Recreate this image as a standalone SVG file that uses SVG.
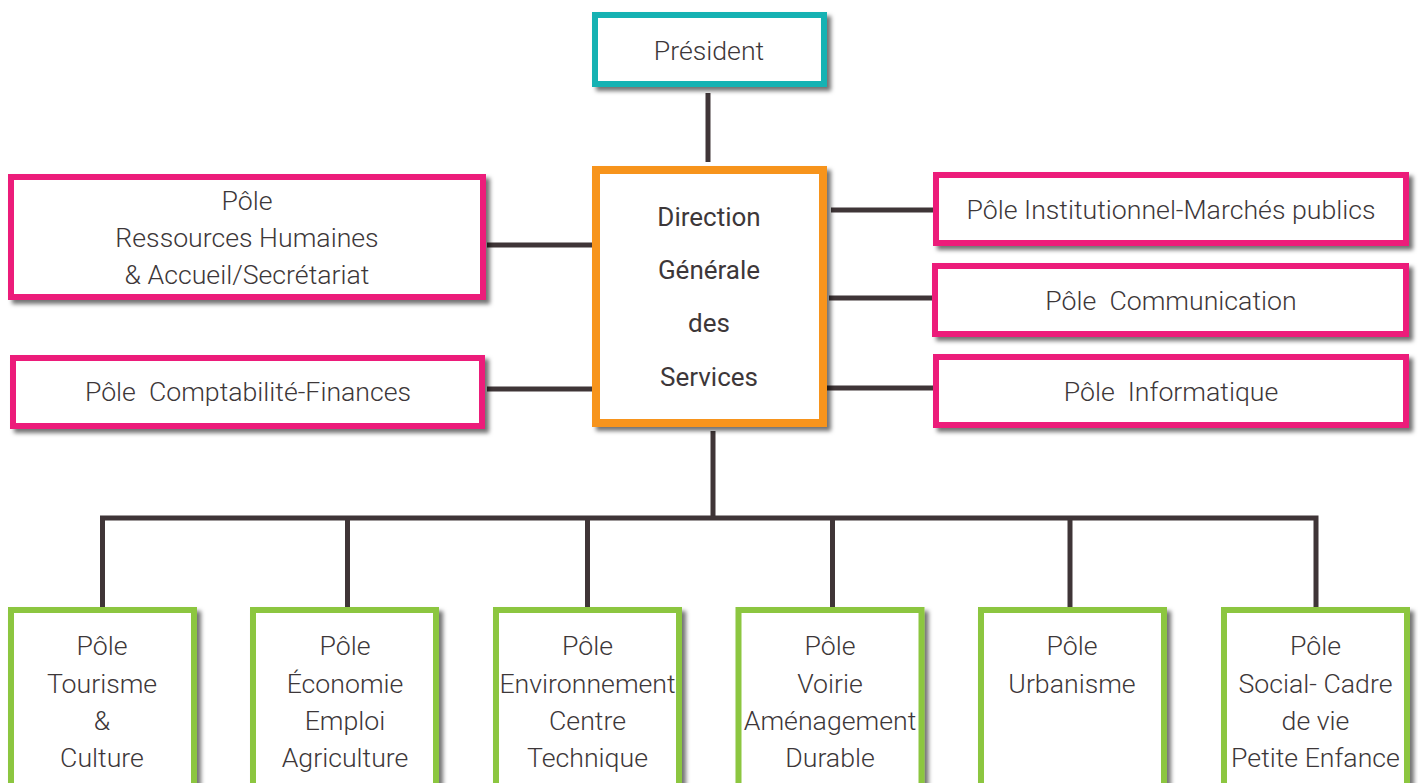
<svg xmlns="http://www.w3.org/2000/svg" width="1418" height="783" viewBox="0 0 1418 783">
<defs>
<filter id="sh" x="-10%" y="-10%" width="130%" height="130%">
<feDropShadow dx="4" dy="4" stdDeviation="2" flood-color="#000" flood-opacity="0.55"/>
</filter>
<style>
.box{fill:#fff;filter:url(#sh)}
.teal{stroke:#17b2b3;stroke-width:6}
.orange{stroke:#f7941e;stroke-width:8}
.pink{stroke:#ec1e7a;stroke-width:6}
.green{stroke:#8cc63f;stroke-width:6}
.t{font-family:Roboto,"Liberation Sans",sans-serif;font-weight:300;font-size:26.7px;fill:#3d3739;text-anchor:middle}
.tb{font-family:Roboto,"Liberation Sans",sans-serif;font-weight:400;font-size:26px;fill:#3d3739;text-anchor:middle}
.c{stroke:#3f3537;stroke-width:5;fill:none}
</style>
</defs>
<rect width="1418" height="783" fill="#fff"/>
<g id="connectors">
<line class="c" x1="708" y1="93" x2="708" y2="162"/>
<line class="c" x1="487" y1="245" x2="592" y2="245"/>
<line class="c" x1="487" y1="389" x2="592" y2="389"/>
<line class="c" x1="831" y1="210" x2="935" y2="210"/>
<line class="c" x1="829" y1="298" x2="935" y2="298"/>
<line class="c" x1="827" y1="388" x2="935" y2="388"/>
<line class="c" x1="713" y1="431" x2="713" y2="520"/>
<polyline class="c" points="102.5,607 102.5,518 1316,518 1316,607"/>
<line class="c" x1="347.5" y1="518" x2="347.5" y2="607"/>
<line class="c" x1="587.5" y1="518" x2="587.5" y2="610"/>
<line class="c" x1="832.5" y1="518" x2="832.5" y2="607"/>
<line class="c" x1="1070" y1="518" x2="1070" y2="610"/>
</g>
<g id="president">
<rect class="box teal" x="595" y="15" width="229" height="69"/>
<text class="t" x="709" y="60">Président</text>
</g>
<g id="dgs">
<rect class="box orange" x="596" y="170" width="227" height="253"/>
<text class="tb" x="709" y="226">Direction</text>
<text class="tb" x="709" y="279">Générale</text>
<text class="tb" x="709" y="332">des</text>
<text class="tb" x="709" y="386">Services</text>
</g>
<g id="rh">
<rect class="box pink" x="11" y="177" width="472" height="120"/>
<text class="t" x="247" y="210">Pôle</text>
<text class="t" x="247" y="247">Ressources Humaines</text>
<text class="t" x="247" y="284">&amp; Accueil/Secrétariat</text>
</g>
<g id="compta">
<rect class="box pink" x="13" y="358" width="469" height="68"/>
<text class="t" x="248" y="401" xml:space="preserve">Pôle  Comptabilité-Finances</text>
</g>
<g id="institutionnel">
<rect class="box pink" x="936" y="175" width="470" height="68"/>
<text class="t" x="1171" y="219">Pôle Institutionnel-Marchés publics</text>
</g>
<g id="communication">
<rect class="box pink" x="935" y="266" width="471" height="68"/>
<text class="t" x="1171" y="310" xml:space="preserve">Pôle  Communication</text>
</g>
<g id="informatique">
<rect class="box pink" x="936" y="357" width="470" height="68"/>
<text class="t" x="1171" y="401" xml:space="preserve">Pôle  Informatique</text>
</g>
<g id="tourisme">
<rect class="box green" x="11" y="610" width="183" height="200"/>
<text class="t" x="102" y="655">Pôle</text>
<text class="t" x="102" y="693">Tourisme</text>
<text class="t" x="102" y="730">&amp;</text>
<text class="t" x="102" y="767">Culture</text>
</g>
<g id="economie">
<rect class="box green" x="253" y="610" width="183" height="200"/>
<text class="t" x="345" y="655">Pôle</text>
<text class="t" x="345" y="693">Économie</text>
<text class="t" x="345" y="730">Emploi</text>
<text class="t" x="345" y="767">Agriculture</text>
</g>
<g id="environnement">
<rect class="box green" x="496" y="610" width="183" height="200"/>
<text class="t" x="587.5" y="655">Pôle</text>
<text class="t" x="587.5" y="693">Environnement</text>
<text class="t" x="587.5" y="730">Centre</text>
<text class="t" x="587.5" y="767">Technique</text>
</g>
<g id="voirie">
<rect class="box green" x="738.5" y="610" width="183" height="200"/>
<text class="t" x="830" y="655">Pôle</text>
<text class="t" x="830" y="693">Voirie</text>
<text class="t" x="830" y="730">Aménagement</text>
<text class="t" x="830" y="767">Durable</text>
</g>
<g id="urbanisme">
<rect class="box green" x="981" y="610" width="183" height="200"/>
<text class="t" x="1072" y="655">Pôle</text>
<text class="t" x="1072" y="693">Urbanisme</text>
</g>
<g id="social">
<rect class="box green" x="1224" y="610" width="183" height="200"/>
<text class="t" x="1315.5" y="655">Pôle</text>
<text class="t" x="1315.5" y="693">Social- Cadre</text>
<text class="t" x="1315.5" y="730">de vie</text>
<text class="t" x="1315.5" y="767">Petite Enfance</text>
</g>
</svg>
